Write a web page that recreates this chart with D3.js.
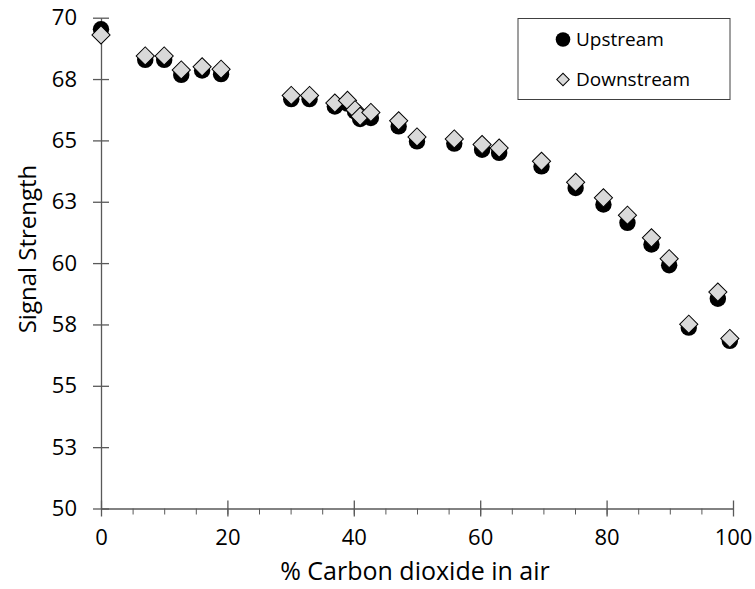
<!DOCTYPE html>
<html>
<head>
<meta charset="utf-8">
<script src="https://cdn.jsdelivr.net/npm/d3@7"></script>
<style>
  body { margin: 0; background: #fff; }
  svg text { font-family: "Open Sans", Lato, sans-serif; fill: #000; }
</style>
</head>
<body>
<div id="chart"></div>
<script>
// values
const co2Percent = [0, 7, 10, 12.7, 16, 19, 30.1, 33, 37, 39, 40.2, 41, 42.7, 47.1, 50, 55.9, 60.3, 63, 69.7, 75.1, 79.5, 83.3, 87.1, 89.9, 93, 97.6, 99.5];
const upstream = [69.53, 68.28, 68.28, 67.67, 67.85, 67.7, 66.68, 66.68, 66.38, 66.5, 66.18, 65.87, 65.91, 65.57, 64.96, 64.87, 64.62, 64.49, 63.94, 63.06, 62.39, 61.64, 60.76, 59.91, 57.37, 58.55, 56.83];
const downstream = [69.3, 68.44, 68.44, 67.87, 68.0, 67.9, 66.83, 66.83, 66.52, 66.63, 66.25, 65.98, 66.14, 65.8, 65.14, 65.06, 64.83, 64.69, 64.15, 63.29, 62.66, 61.95, 61.03, 60.18, 57.51, 58.82, 56.93];
const seriesNames = ['Upstream', 'Downstream'];
const xTicks = [0, 20, 40, 60, 80, 100];
const xMinorTicks = d3.range(0, 101, 5);
const yTicks = d3.range(50, 70.01, 2.5);

const width = 755, height = 589;
const margin = { top: 17.7, right: 22, bottom: 80.5, left: 101 };
const innerW = width - margin.left - margin.right;
const innerH = height - margin.top - margin.bottom;

const svg = d3.select('#chart').append('svg')
  .attr('width', width)
  .attr('height', height);

const x = d3.scaleLinear().domain([0, 100]).range([0, innerW]);
const y = d3.scaleLinear().domain([50, 70]).range([innerH, 0]);

const chart = svg.append('g')
  .attr('transform', `translate(${margin.left}, ${margin.top})`);

// minor x ticks (outside only)
chart.append('g')
  .attr('transform', `translate(0, ${innerH})`)
  .call(d3.axisBottom(x).tickValues(xMinorTicks).tickSize(6).tickFormat(''))
  .call(g => g.select('.domain').remove())
  .call(g => g.selectAll('line').attr('stroke', '#595959'));

// x axis, major ticks cross the line
const xAxis = chart.append('g')
  .attr('transform', `translate(0, ${innerH})`)
  .call(d3.axisBottom(x).tickValues(xTicks).tickSize(0).tickPadding(21).tickFormat(d3.format('d')));
xAxis.select('.domain').attr('stroke', '#595959').attr('stroke-width', 1.3);
xAxis.selectAll('.tick line').attr('y1', -8).attr('y2', 8).attr('stroke', '#595959').attr('stroke-width', 1.3);
xAxis.selectAll('text').attr('font-size', 22).attr('dy', '0.71em');

// y axis
const yAxis = chart.append('g')
  .call(d3.axisLeft(y).tickValues(yTicks).tickSize(0).tickPadding(24).tickFormat(d3.format('.0f')));
yAxis.select('.domain').attr('stroke', '#595959').attr('stroke-width', 1.3);
yAxis.selectAll('.tick line').attr('x1', -8).attr('x2', 8).attr('stroke', '#595959').attr('stroke-width', 1.3);
yAxis.selectAll('text').attr('font-size', 22);

// axis titles
svg.append('text')
  .attr('x', 415)
  .attr('y', 580)
  .attr('text-anchor', 'middle')
  .attr('font-size', 25)
  .text('% Carbon dioxide in air');

svg.append('text')
  .attr('transform', 'translate(36, 249) rotate(-90)')
  .attr('text-anchor', 'middle')
  .attr('font-size', 24)
  .text('Signal Strength');

// points
const up = co2Percent.map((d, i) => ({ x: d, y: upstream[i] }));
const down = co2Percent.map((d, i) => ({ x: d, y: downstream[i] }));

chart.selectAll('.up').data(up).enter()
  .append('circle')
  .attr('class', 'up')
  .attr('cx', d => x(d.x))
  .attr('cy', d => y(d.y))
  .attr('r', 8.2)
  .attr('fill', '#000');

const diamond = d3.symbol().type(d3.symbolSquare).size(165);
chart.selectAll('.down').data(down).enter()
  .append('path')
  .attr('class', 'down')
  .attr('d', diamond)
  .attr('transform', d => `translate(${x(d.x)}, ${y(d.y)}) rotate(45)`)
  .attr('fill', '#d9d9d9')
  .attr('stroke', '#000')
  .attr('stroke-width', 1);

// legend
const legend = svg.append('g');
legend.append('rect')
  .attr('x', 518).attr('y', 18.5)
  .attr('width', 212).attr('height', 81)
  .attr('fill', '#fff')
  .attr('stroke', '#404040')
  .attr('stroke-width', 1);

const items = legend.selectAll('.item').data(seriesNames).enter()
  .append('g')
  .attr('transform', (d, i) => `translate(563, ${39.5 + i * 40})`);

items.filter((d, i) => i === 0).append('circle')
  .attr('r', 7.3).attr('fill', '#000');
items.filter((d, i) => i === 1).append('path')
  .attr('d', d3.symbol().type(d3.symbolSquare).size(78))
  .attr('transform', 'rotate(45)')
  .attr('fill', '#d9d9d9')
  .attr('stroke', '#000');

items.append('text')
  .attr('x', 13)
  .attr('dy', '0.35em')
  .attr('font-size', 19)
  .text(d => d);
</script>
</body>
</html>
